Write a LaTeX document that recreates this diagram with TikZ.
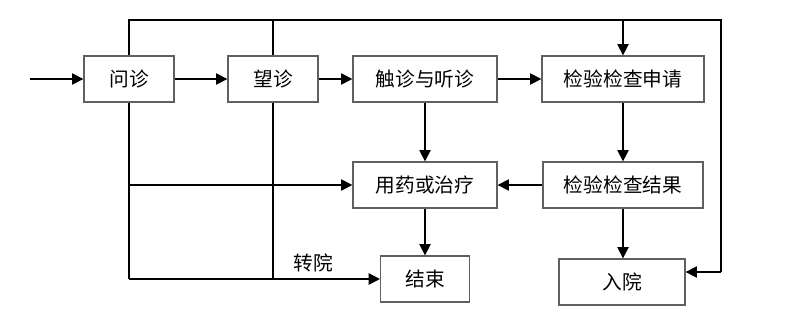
\documentclass[tikz,border=0pt]{standalone}
\usepackage{fontspec}
\newfontfamily\cjk{Noto Sans CJK SC}
\usetikzlibrary{arrows.meta,positioning,calc}
\tikzset{
  stepbox/.style={
    rectangle, draw=gray!75!black, fill=white, line width=0.9pt,
    minimum height=1.15cm, inner sep=2pt, text centered,
    font=\cjk\fontsize{14}{16}\selectfont
  },
  flowarr/.style={-{Triangle[length=8pt,width=8pt]}, line width=1pt},
  flowline/.style={line width=1pt}
}

\begin{document}
\begin{tikzpicture}[x=0.025cm,y=-0.025cm]
  \useasboundingbox (0,0) rectangle (800,322);

  % Boxes
  \node[stepbox, minimum width=2.25cm] (wenzhen)  at (129,79)  {问诊};
  \node[stepbox, minimum width=2.25cm] (wangzhen) at (273,79)  {望诊};
  \node[stepbox, minimum width=3.6cm]  (chuzhen)  at (425,79)  {触诊与听诊};
  \node[stepbox, minimum width=4.05cm] (shenqing) at (623,79)  {检验检查申请};
  \node[stepbox, minimum width=3.6cm]  (yongyao)  at (425,185) {用药或治疗};
  \node[stepbox, minimum width=4.0cm]  (jieguo)   at (623,185) {检验检查结果};
  \node[stepbox, minimum width=2.22cm] (jieshu)   at (425,279) {结束};
  \node[stepbox, minimum width=3.15cm] (ruyuan)   at (622,282) {入院};

  % Corners of the long lines
  \coordinate (entry) at (30,79);
  \coordinate (topl)  at (129,20);
  \coordinate (topr)  at (721,20);
  \coordinate (endr)  at (721,272);
  \coordinate (botl)  at (129,279);

  % Main row
  \draw[flowarr] (entry) -- (wenzhen.west);
  \draw[flowarr] (wenzhen) -- (wangzhen);
  \draw[flowarr] (wangzhen) -- (chuzhen);
  \draw[flowarr] (chuzhen) -- (shenqing);

  % Top line and right line
  \draw[flowline] (wenzhen.north) -- (topl) -- (topr) -- (endr);
  \draw[flowline] (wangzhen.north) -- (wangzhen.north |- topl);
  \draw[flowarr] (shenqing.north |- topl) -- (shenqing.north);
  \draw[flowarr] (endr) -- (endr -| ruyuan.east);

  % Left lines
  \draw[flowline] (wenzhen.south) -- (botl);
  \draw[flowline] (wangzhen.south) -- (wangzhen.south |- botl);
  \draw[flowarr] (wenzhen.south |- yongyao) -- (yongyao.west);
  \draw[flowarr] (botl) -- (jieshu.west);
  \node[font=\cjk\fontsize{14}{16}\selectfont] (zhuanyuan) at (313,263) {转院};

  % Lower part
  \draw[flowarr] (chuzhen) -- (yongyao);
  \draw[flowarr] (shenqing) -- (jieguo);
  \draw[flowarr] (jieguo) -- (yongyao);
  \draw[flowarr] (yongyao) -- (jieshu);
  \draw[flowarr] (jieguo.south) -- (jieguo.south |- ruyuan.north);
\end{tikzpicture}
\end{document}
